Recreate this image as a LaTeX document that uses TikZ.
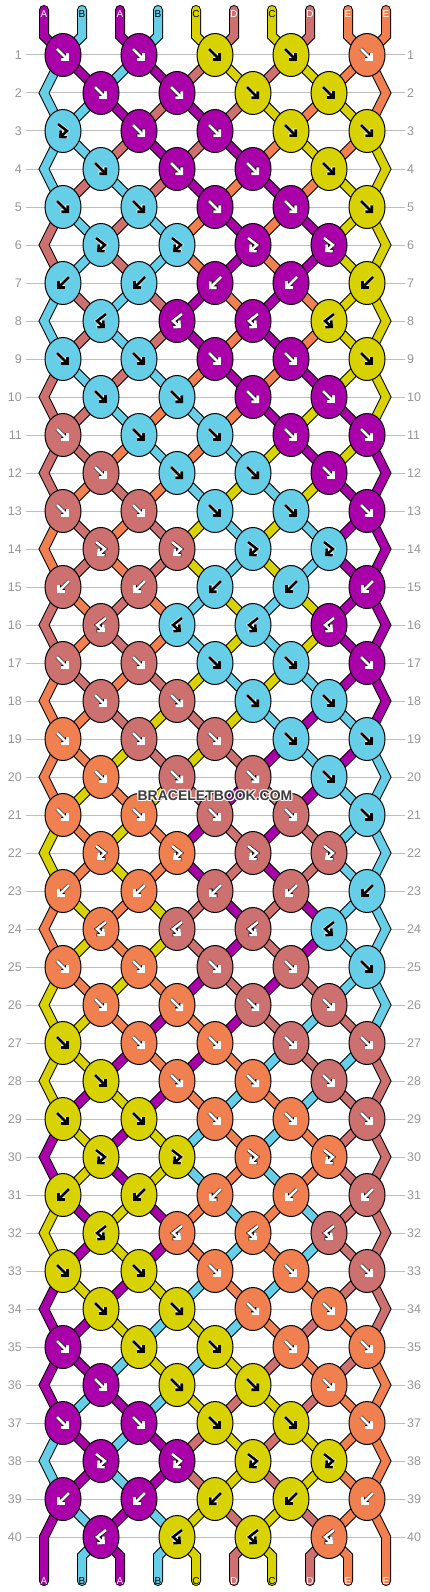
\documentclass[tikz,border=0pt]{standalone}
\usepackage{fontspec}
\setmainfont{Liberation Sans}
\usetikzlibrary{shapes.geometric,arrows.meta}
\definecolor{colA}{RGB}{170,0,170}
\definecolor{colB}{RGB}{102,206,230}
\definecolor{colC}{RGB}{216,210,0}
\definecolor{colD}{RGB}{204,112,112}
\definecolor{colE}{RGB}{240,128,80}
\colorlet{txtA}{white}\colorlet{txtB}{black}\colorlet{txtC}{black}\colorlet{txtD}{white}\colorlet{txtE}{white}
\colorlet{outA}{black}\colorlet{outB}{white}\colorlet{outC}{white}\colorlet{outD}{black}\colorlet{outE}{black}
\definecolor{gridgrey}{RGB}{190,190,190}
\definecolor{numgrey}{RGB}{150,150,150}
\definecolor{wmgrey}{RGB}{60,60,60}
\pgfdeclarelayer{grid}
\pgfdeclarelayer{strands}
\pgfsetlayers{grid,strands,main}
\def\Tf{f}\def\Tb{b}\def\Tfb{fb}\def\Tbf{bf}
\newcommand\knotarrow[4]{%
  \edef\tmpT{#1}%
  \begin{scope}[shift={(#2,#3)}]
    \ifx\tmpT\Tf \draw[arr=#4] (-6,-6) -- (6,6);\fi
    \ifx\tmpT\Tb \draw[arr=#4] (6,-6) -- (-6,6);\fi
    \ifx\tmpT\Tfb \draw[arr=#4] (-5,-7) -- (4,0) -- (-4,7);\fi
    \ifx\tmpT\Tbf \draw[arr=#4] (5,-7) -- (-4,0) -- (4,7);\fi
  \end{scope}}
\newcommand\swapS[2]{%
  \edef\tmpa{\csname bS#1\endcsname}\edef\tmpb{\csname bS#2\endcsname}%
  \expandafter\xdef\csname bS#1\endcsname{\tmpb}%
  \expandafter\xdef\csname bS#2\endcsname{\tmpa}}
\tikzset{
  knotnode/.style={ellipse, draw=black, line width=1pt, minimum width=36pt, minimum height=43pt, inner sep=0pt},
  strand/.style={draw=black, line width=1pt, double=#1, double distance=8pt},
  arr/.style={draw=txt#1, line width=2.6pt, -{Straight Barb[length=4.5pt,width=9pt]}, preaction={draw=out#1, line width=3.8pt}},
  gridline/.style={draw=gridgrey, line width=1pt},
  numlbl/.style={font=\fontsize{12.5}{12.5}\selectfont, text=numgrey, inner sep=0pt},
  letterlbl/.style={font=\fontsize{10}{10}\selectfont, inner sep=0pt},
  wm/.style={font=\bfseries\fontsize{14}{14}\selectfont, inner sep=0pt},
}
\begin{document}
\begin{tikzpicture}[x=1pt,y=-1pt]
\useasboundingbox (0,0) rectangle (430,1592);
\begin{pgfonlayer}{grid}
\fill[white] (0,0) rectangle (430,1592);
\foreach \rw in {1,...,40}{
  \pgfmathtruncatemacro\yy{55+38*(\rw-1)}
  \draw[gridline] (26,\yy) -- (405,\yy);
}
\end{pgfonlayer}
% row numbers
\foreach \rw in {1,...,40}{
  \pgfmathtruncatemacro\yy{55+38*(\rw-1)}
  \node[numlbl, anchor=east] (nl\rw) at (22,\yy) {\rw};
  \node[numlbl, anchor=west] (nr\rw) at (407,\yy) {\rw};
}
% initial strings
\foreach \ll [count=\cc] in {A,B,A,B,C,D,C,D,E,E}{
  \expandafter\xdef\csname bS\cc\endcsname{\ll}%
  \expandafter\xdef\csname bI\cc\endcsname{\ll}%
}
% knots
\foreach \rw in {1,...,40}{
  \pgfmathtruncatemacro\yy{55+38*(\rw-1)}
  \pgfmathtruncatemacro\rodd{mod(\rw,2)}
  \pgfmathtruncatemacro\mm{mod(\rw,8)}
  \ifcase\mm \gdef\rtype{bf}\or\gdef\rtype{f}\or\gdef\rtype{f}\or\gdef\rtype{f}\or\gdef\rtype{f}\or\gdef\rtype{f}\or\gdef\rtype{fb}\or\gdef\rtype{b}\fi
  \ifnum\rodd=1 \gdef\nk{5}\gdef\xo{63}\gdef\po{0}\else\gdef\nk{4}\gdef\xo{101}\gdef\po{1}\fi
  \foreach \kn in {1,...,\nk}{
    \pgfmathtruncatemacro\ii{2*\kn-1+\po}
    \pgfmathtruncatemacro\jj{\ii+1}
    \pgfmathtruncatemacro\xx{\xo+76*(\kn-1)}
    \edef\kL{\csname bS\ii\endcsname}
    \edef\kR{\csname bS\jj\endcsname}
    \let\ktype\rtype
    \ifnum\rw=3 \ifnum\kn=1 \def\ktype{fb}\fi\fi
    \ifx\ktype\Tf \let\kc\kL \swapS{\ii}{\jj}\fi
    \ifx\ktype\Tb \let\kc\kR \swapS{\ii}{\jj}\fi
    \ifx\ktype\Tfb \let\kc\kL \fi
    \ifx\ktype\Tbf \let\kc\kR \fi
    \node[knotnode, fill=col\kc] (k\rw-\kn) at (\xx,\yy) {};
    \knotarrow{\ktype}{\xx}{\yy}{\kc}
  }
  \foreach \pp in {1,...,10}{\expandafter\xdef\csname bC\rw-\pp\endcsname{\csname bS\pp\endcsname}}
}
% strands
\begin{pgfonlayer}{strands}
\foreach \pp in {1,...,10}{
  \pgfmathtruncatemacro\xp{44+38*(\pp-1)}
  \pgfmathtruncatemacro\kup{(\pp+1)/2}
  \edef\sc{col\csname bI\pp\endcsname}
  \coordinate (top\pp) at (\xp,10);
  \coordinate (topb\pp) at (\xp,36);
  \draw[strand=\sc, line cap=round] (top\pp) -- (topb\pp) -- (k1-\kup.center);
}
\foreach \rw in {1,...,40}{
  \pgfmathtruncatemacro\rodd{mod(\rw,2)}
  \pgfmathtruncatemacro\rn{\rw+1}
  \pgfmathtruncatemacro\rnn{\rw+2}
  \pgfmathtruncatemacro\yn{55+38*\rw}
  \foreach \pp in {1,...,10}{
    \edef\sc{col\csname bC\rw-\pp\endcsname}
    \pgfmathtruncatemacro\xp{44+38*(\pp-1)}
    \pgfmathtruncatemacro\kup{(\pp+1)/2}
    \pgfmathtruncatemacro\kdn{\pp/2}
    \ifnum\rodd=1
      \ifnum\pp=1
        \coordinate (eL\rn) at (44,\yn);
        \ifnum\rw<39
          \draw[strand=\sc] (k\rw-1.center) -- (eL\rn) -- (k\rnn-1.center);
        \else
          \coordinate (bot1) at (44,1581);
          \draw[strand=\sc, line cap=round] (k\rw-1.center) -- (eL\rn) -- (bot1);
        \fi
      \fi
      \ifnum\pp=10
        \coordinate (eR\rn) at (386,\yn);
        \ifnum\rw<39
          \draw[strand=\sc] (k\rw-5.center) -- (eR\rn) -- (k\rnn-5.center);
        \else
          \coordinate (bot10) at (386,1581);
          \draw[strand=\sc, line cap=round] (k\rw-5.center) -- (eR\rn) -- (bot10);
        \fi
      \fi
      \ifnum\pp>1 \ifnum\pp<10
        \draw[strand=\sc] (k\rw-\kup.center) -- (k\rn-\kdn.center);
      \fi\fi
    \else
      \ifnum\pp>1 \ifnum\pp<10
        \ifnum\rw<40
          \draw[strand=\sc] (k\rw-\kdn.center) -- (k\rn-\kup.center);
        \else
          \coordinate (botb\pp) at (\xp,1556);
          \coordinate (bot\pp) at (\xp,1581);
          \draw[strand=\sc, line cap=round] (k\rw-\kdn.center) -- (botb\pp) -- (bot\pp);
        \fi
      \fi\fi
    \fi
  }
}
\end{pgfonlayer}
% string letters
\foreach \cc in {1,...,10}{
  \pgfmathtruncatemacro\xp{44+38*(\cc-1)}
  \edef\ll{\csname bI\cc\endcsname}
  \node[letterlbl, text=txt\ll] (lt\cc) at (\xp,14) {\ll};
  \edef\ll{\csname bS\cc\endcsname}
  \node[letterlbl, text=txt\ll] (lb\cc) at (\xp,1581) {\ll};
}
% watermark
\foreach \hx/\hy [count=\cc] in {214/795,215/795,216/795,214/796,216/796,214/797,215/797,216/797}{
  \node[wm, text=white, opacity=0.85] (wmh\cc) at (\hx,\hy) {BRACELETBOOK.COM};
}
\node[wm, text=wmgrey] (wm) at (215,796) {BRACELETBOOK.COM};
\end{tikzpicture}
\end{document}
